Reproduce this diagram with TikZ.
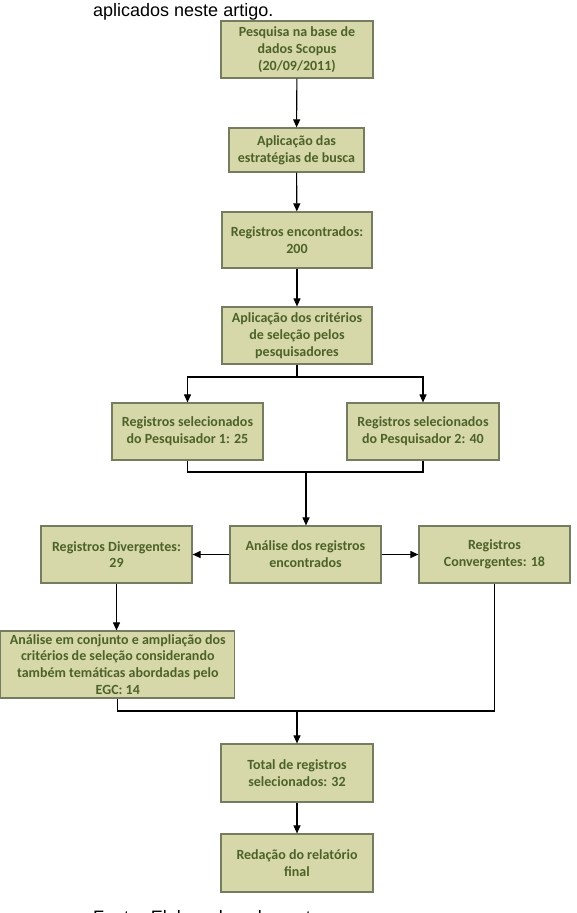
\documentclass[tikz,border=0pt]{standalone}
\usepackage{fontspec}
\setmainfont{Liberation Sans}
\newfontfamily\calib{Carlito}
\usetikzlibrary{arrows.meta, calc}
\definecolor{caixafundo}{RGB}{214,216,170}
\definecolor{caixaborda}{RGB}{118,124,96}
\definecolor{caixatexto}{RGB}{76,98,40}

\begin{document}
\begin{tikzpicture}[x=1pt, y=-1pt,
    etapa/.style={draw=caixaborda, fill=caixafundo, text=caixatexto, line width=1.2pt,
      font=\calib\bfseries\fontsize{14}{16.8}\selectfont, align=center, inner sep=1pt},
    seta/.style={line width=1.1pt, -{Triangle[length=8pt,width=7pt]}},
    linha/.style={line width=1.1pt}]
    \useasboundingbox (0,0) rectangle (577,913);
    \node[anchor=base west, inner sep=0pt, font=\fontsize{18}{21}\selectfont] (legenda) at (93,16) {aplicados neste artigo.};
    \node[etapa, minimum width=152pt, minimum height=57pt] (pesq) at (297,49.5) {Pesquisa na base de\\dados Scopus\\(20/09/2011)};
    \node[etapa, minimum width=135pt, minimum height=44pt] (aplic) at (296.5,150) {Aplicação das\\estratégias de busca};
    \node[etapa, minimum width=150pt, minimum height=56pt] (reg) at (297,240) {Registros encontrados:\\200};
    \node[etapa, minimum width=150pt, minimum height=57pt] (crit) at (297,335.5) {Aplicação dos critérios\\de seleção pelos\\pesquisadores};
    \node[etapa, minimum width=151pt, minimum height=57pt] (pesqum) at (187.5,431.5) {Registros selecionados\\do Pesquisador 1: 25};
    \node[etapa, minimum width=152pt, minimum height=57pt] (pesqdois) at (423,431.5) {Registros selecionados\\do Pesquisador 2: 40};
    \node[etapa, minimum width=151pt, minimum height=57pt] (anal) at (305.5,554.5) {Análise dos registros\\encontrados};
    \node[etapa, minimum width=151pt, minimum height=57pt] (diverg) at (116.5,554.5) {Registros Divergentes:\\29};
    \node[etapa, minimum width=151pt, minimum height=57pt] (converg) at (494.5,554.5) {Registros\\Convergentes: 18};
    \node[etapa, minimum width=234pt, minimum height=67pt, inner sep=0pt] (egc) at (117.8,664.5) {Análise em conjunto e ampliação dos\\critérios de seleção considerando\\também temáticas abordadas pelo\\EGC: 14};
    \node[etapa, minimum width=152pt, minimum height=58pt] (total) at (297,773) {Total de registros\\selecionados: 32};
    \node[etapa, minimum width=152pt, minimum height=58pt] (final) at (297,863) {Redação do relatório\\final};
    \coordinate (divide) at (297,377);
    \coordinate (junta) at (306,472);
    \coordinate (uniao) at (297,711);
    \draw[seta] (pesq) -- (aplic);
    \draw[seta] (aplic) -- (reg);
    \draw[seta] (reg) -- (crit);
    \draw[linha] (crit.south) -- (divide);
    \draw[seta] (divide) -| (pesqum.north);
    \draw[seta] (divide) -| (pesqdois.north);
    \draw[linha] (pesqum.south) |- (junta) -| (pesqdois.south);
    \draw[seta] (junta) -- (junta |- anal.north);
    \draw[seta] (anal) -- (diverg);
    \draw[seta] (anal) -- (converg);
    \draw[seta] (diverg.south) -- (diverg.south |- egc.north);
    \draw[linha] (egc.south) |- (uniao) -| (converg.south);
    \draw[seta] (uniao) -- (total);
    \draw[seta] (total) -- (final);
    \begin{scope}
      \clip (0,0) rectangle (577,913);
      \node[anchor=base west, inner sep=0pt, font=\fontsize{18}{21}\selectfont] (fonte) at (93,923) {Fonte: Elaborado pelos autores};
    \end{scope}
\end{tikzpicture}
\end{document}
